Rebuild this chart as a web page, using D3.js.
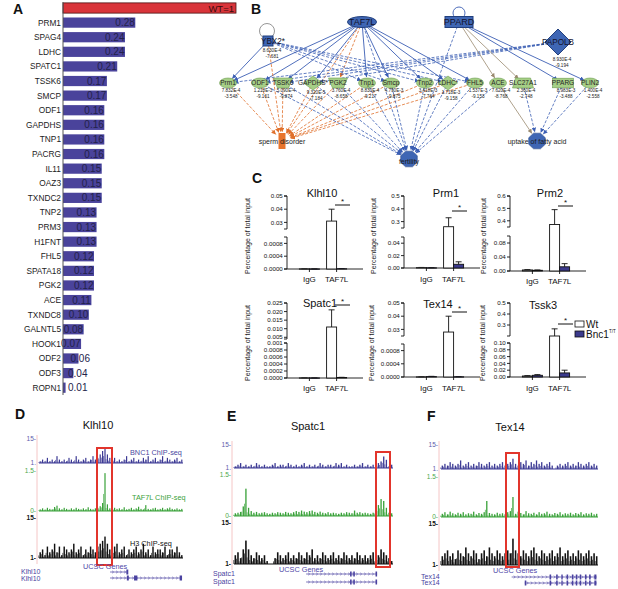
<!DOCTYPE html>
<html><head><meta charset="utf-8">
<script src="https://cdn.jsdelivr.net/npm/d3@7/dist/d3.min.js"></script>
<style>body{margin:0;background:#fff}svg{display:block}</style>
</head><body>
<svg id="fig" width="618" height="589" xmlns="http://www.w3.org/2000/svg"></svg>
<script>
// ================= DATA =================
// Panel A: fold change vs WT (=1)
const aGenes = ["PRM1","SPAG4","LDHC","SPATC1","TSSK6","SMCP","ODF1","GAPDHS","TNP1","PACRG","IL11","OAZ3","TXNDC2","TNP2","PRM3","H1FNT","FHL5","SPATA18","PGK2","ACE","TXNDC8","GALNTL5","HOOK1","ODF2","ODF3","ROPN1"];
const aRatios = [0.28,0.24,0.24,0.21,0.17,0.17,0.16,0.16,0.16,0.16,0.15,0.15,0.15,0.13,0.13,0.13,0.12,0.12,0.12,0.11,0.10,0.08,0.07,0.06,0.04,0.01];
const aWT = 1;

// Panel B: network nodes [name, x, y (layout units), shape, kind, p-value, fold]
const bNodes = [
  ["TAF7L",162,22,"ellipseL","reg","",""],
  ["PPARD",259,22,"rectL","reg","",""],
  ["YBX2*",68,41,"square","reg","8.630E-4","-7.681"],
  ["PAPOLB",358,42,"diamondL","reg","8.930E-4","-9.194"],
  ["Prm1",28,83,"ellipse","tgt","7.832E-4","-3.548"],
  ["ODF1",60,83,"ellipse","tgt","1.218E-3","-9.161"],
  ["TSSK6",83,83,"kinase","tgt","5.090E-4","-9.874"],
  ["GAPDHS*",113,83,"diamond","tgt","9.320E-5","-7.184"],
  ["PGK2",138,83,"kinase","tgt","3.760E-4","-8.658"],
  ["Tnp1",167,83,"ellipse","tgt","8.830E-4","-9.217"],
  ["Smcp",191,83,"ellipse","tgt","4.790E-3","-9.875"],
  ["Tnp2",225,83,"ellipse","tgt","3.418E-3","-7.764"],
  ["LDHC*",248,83,"diamond","tgt","1.718E-3","-9.158"],
  ["FHL5",275,83,"ellipse","tgt","1.537E-3","-9.153"],
  ["ACE",298,83,"ellipse","tgt","7.620E-4","-8.768"],
  ["SLC27A1",323,83,"trap","tgt","2.360E-4","-2.748"],
  ["PPARG",363,83,"rect","tgt","8.983E-3","-3.488"],
  ["PLIN2",390,83,"ellipse","tgt","1.400E-4","-2.558"],
  ["sperm disorder",82,141,"orange","fn","",""],
  ["fertility",209,159,"oct","fn","",""],
  ["uptake of fatty acid",337,141,"oct","fn","",""]
];
const bEdges = [
  ["TAF7L","Prm1","s"],["TAF7L","ODF1","s"],["TAF7L","TSSK6","s"],["TAF7L","GAPDHS*","s"],["TAF7L","Tnp1","s"],
  ["TAF7L","Smcp","s"],["TAF7L","Tnp2","s"],["TAF7L","LDHC*","s"],["TAF7L","FHL5","s"],
  ["TAF7L","fertility","d"],["TAF7L","sperm disorder","o"],["TAF7L","PGK2","o"],
  ["YBX2*","Prm1","s"],["YBX2*","Tnp1","d"],["YBX2*","Smcp","d"],["YBX2*","Tnp2","d"],["YBX2*","LDHC*","d"],
  ["YBX2*","FHL5","d"],["YBX2*","sperm disorder","o"],
  ["PAPOLB","Prm1","d"],["PAPOLB","ODF1","d"],["PAPOLB","TSSK6","d"],["PAPOLB","GAPDHS*","d"],
  ["PPARD","PPARG","s"],["PPARD","PLIN2","s"],["PPARD","SLC27A1","g"],["PPARD","ACE","g"],["PPARD","fertility","d"],
  ["Prm1","sperm disorder","o"],["ODF1","sperm disorder","o"],["TSSK6","sperm disorder","o"],["GAPDHS*","sperm disorder","o"],
  ["PGK2","sperm disorder","o"],["Tnp1","sperm disorder","o"],["Smcp","sperm disorder","o"],["Tnp2","sperm disorder","o"],
  ["LDHC*","sperm disorder","o"],["FHL5","sperm disorder","o"],
  ["ODF1","fertility","d"],["TSSK6","fertility","d"],["GAPDHS*","fertility","d"],["PGK2","fertility","d"],["Tnp1","fertility","d"],
  ["Smcp","fertility","d"],["Tnp2","fertility","d"],["LDHC*","fertility","d"],["FHL5","fertility","d"],["ACE","fertility","d"],
  ["ACE","uptake of fatty acid","g"],["SLC27A1","uptake of fatty acid","d"],["PPARG","uptake of fatty acid","d"],["PLIN2","uptake of fatty acid","d"]
];

// Panel C: ChIP-qPCR, % of total input  [IgG, TAF7L]
const cTitles = ["Klhl10","Prm1","Prm2","Spatc1","Tex14","Tssk3"];
const cGroups = ["IgG","TAF7L"];
const cWtMean  = [[0.000004,0.031],[0.0006,0.26],[0.003,0.37],[0.000003,0.011],[0.000004,0.028],[0.003,0.20]];
const cWtErr   = [[0.000006,0.040],[0.0009,0.33],[0.004,0.49],[0.000004,0.021],[0.000006,0.040],[0.004,0.265]];
const cBncMean = [[0.000002,0.000008],[0.0003,0.006],[0.002,0.012],[0.000002,0.000015],[0.000012,0.000006],[0.005,0.012]];
const cBncErr  = [[0.000004,0.000012],[0.0005,0.010],[0.003,0.021],[0.000003,0.00002],[0.00002,0.00001],[0.007,0.020]];
const cUpTicks = [[0.03,0.04,0.05],[0.3,0.4,0.5],[0.4,0.5,0.6],[0.005,0.01,0.015,0.02,0.025],[0.03,0.04,0.05],[0.3,0.4,0.5]];
const cLoTicks = [[0,0.0004,0.0008],[0,0.02,0.04],[0,0.04,0.08],[0,0.0002,0.0004,0.0006,0.0008,0.001],[0,0.0004,0.0008],[0,0.02,0.04,0.06,0.08,0.1]];
const cLegend = ["Wt","Bnc1"];

// Panels D-F: genome browser signal (60 bins per track)
const gTitles = ["Klhl10","Spatc1","Tex14"];
const gTrackNames = ["BNC1 ChIP-seq","TAF7L ChIP-seq","H3 ChIP-seq"];
const bnc1Signal = [
  [2,3,2,4,2,3,2,5,3,2,3,2,4,3,2,5,3,2,3,4,2,3,5,3,4,6,8,10,6,4,2,4,2,3,2,3,5,2,3,4,2,3,2,4,3,5,2,3,4,2,3,5,2,4,3,2,3,4,2,3],
  [2,3,4,2,3,2,3,2,4,3,2,3,2,2,3,4,2,3,3,2,4,3,2,3,2,3,4,2,3,2,3,2,4,3,2,3,3,2,4,3,4,2,3,2,2,3,2,3,4,2,3,2,3,2,4,5,8,6,2,3],
  [3,4,3,5,4,3,4,6,3,4,5,3,4,3,5,4,3,4,5,3,4,3,4,5,3,4,5,7,4,3,5,4,6,3,5,4,6,4,5,3,4,5,3,1,3,4,3,4,5,3,4,3,5,4,3,4,5,3,4,3]
];
const taf7lSignal = [
  [0.06,0.1,0.05,0.12,0.08,0.06,0.15,0.2,0.1,0.06,0.12,0.08,0.05,0.1,0.06,0.12,0.08,0.06,0.1,0.06,0.14,0.08,0.06,0.1,0.12,0.18,0.3,1.42,0.25,0.1,0.06,0.12,0.08,0.1,0.06,0.14,0.06,0.08,0.12,0.06,0.1,0.16,0.08,0.06,0.22,0.08,0.06,0.1,0.12,0.06,0.08,0.12,0.06,0.1,0.13,0.08,0.06,0.1,0.06,0.08],
  [0.1,0.12,0.15,0.35,1.0,0.3,0.18,0.12,0.15,0.1,0.12,0.14,0.1,0.08,0.12,0.1,0.14,0.12,0.1,0.15,0.12,0.1,0.14,0.18,0.15,0.2,0.16,0.14,0.18,0.2,0.15,0.12,0.16,0.12,0.1,0.14,0.1,0.12,0.1,0.08,0.12,0.1,0.14,0.12,0.1,0.2,0.12,0.14,0.1,0.12,0.1,0.08,0.12,0.2,0.4,0.62,0.55,0.3,0.12,0.1],
  [0.12,0.18,0.1,0.2,0.14,0.1,0.16,0.12,0.18,0.1,0.14,0.12,0.2,0.1,0.15,0.12,0.18,0.6,0.15,0.12,0.1,0.16,0.12,0.14,0.1,0.18,0.22,0.75,0.12,0.2,0.15,0.1,0.22,0.14,0.12,0.16,0.1,0.18,0.12,0.14,0.2,0.12,0.1,0.15,0.12,0.18,0.1,0.14,0.12,0.16,0.1,0.15,0.12,0.18,0.1,0.14,0.12,0.16,0.1,0.12]
];
const h3Signal = [
  [3,4,2,5,3,4,6,3,5,2,5,4,3,4,6,3,4,5,2,4,3,5,4,3,5,6,7,8.5,6,4,3,5,6,3,4,5,2,4,3,4,5,3,4,6,3,4,2,5,3,4,4,3,5,2,4,4,3,5,3,2],
  [4,5,3,6,9,6,4,3,5,4,3,4,2,1,1,3,5,4,3,4,5,3,4,3,5,4,3,5,4,6,3,4,3,5,4,3,4,5,3,4,3,5,4,3,4,3,5,4,3,4,3,4,5,3,4,6,5,4,3,2],
  [4,5,6,4,5,3,6,5,4,7,5,4,6,5,3,5,6,4,7,5,4,6,5,4,5,6,5,10,6,5,4,6,5,4,6,7,5,4,6,5,4,5,6,4,5,7,4,5,6,4,5,4,6,5,4,5,6,4,5,4]
];
// gene models, in bin units [start, end, exons]
const geneModels = [
  [[29.6,37,[[36.4,37.2]]],[29.6,59.6,[[36.6,37.4],[39.6,41],[58.6,59.6]]]],
  [[27.2,54,[[43.8,44.4],[45,45.6],[53.4,54]]],[27.2,54,[[43.8,44.4],[45,45.6],[53.4,54]]]],
  [[27,59.5,[[41.5,42.1],[44,44.6],[46,46.5],[48,48.6],[50,50.6],[51.5,52.1],[53,53.6],[55,55.6],[56.6,57.2],[58.6,59.4]]],
   [32,59.5,[[32,32.6],[41.5,42.1],[44,44.6],[46,46.5],[48,48.6],[50,50.6],[51.5,52.1],[53,53.6],[55,55.6],[56.6,57.2],[58.6,59.4]]]]
];

// ================= DRAW =================
const FONT = "'Liberation Sans', Arial, Helvetica, sans-serif";
const svg = d3.select("#fig").attr("font-family", FONT);
function txt(g, x, y, s, size, opt = {}) {
  return g.append("text").attr("x", x).attr("y", y).text(s)
    .attr("font-size", size).attr("font-family", FONT)
    .attr("font-weight", opt.w || "normal")
    .attr("text-anchor", opt.a || "start")
    .attr("fill", opt.f || "#111");
}
function ln(g, x1, y1, x2, y2, c, w) {
  return g.append("line").attr("x1", x1).attr("y1", y1).attr("x2", x2).attr("y2", y2).attr("stroke", c || "#111").attr("stroke-width", w || 0.9);
}

// ---- Panel letters
[["A",13,14],["B",251,14],["C",252,183],["D",15,419],["E",227,421],["F",427,421]].forEach(d =>
  txt(svg, d[1], d[2], d[0], 14, {w: "bold"}));

// ---- Panel A
(function () {
  const g = svg.append("g");
  const rows = ["WT"].concat(aGenes);
  const y = d3.scaleBand().domain(rows).range([0.7, 395]).paddingInner(0.3).paddingOuter(0.15);
  const x = d3.scaleLinear().domain([0, 0.67]).range([63, 236]).clamp(true);
  g.append("rect").attr("x", x(0)).attr("y", y("WT")).attr("width", x(aWT) - x(0)).attr("height", y.bandwidth())
    .attr("fill", "#d9343a").attr("stroke", "#4a1414").attr("stroke-width", 0.8);
  txt(g, x(aWT) - 2, y("WT") + y.bandwidth() / 2 + 3.5, "WT=1", 9.5, {a: "end", f: "#3a0c0c"});
  aGenes.forEach((name, i) => {
    const v = aRatios[i], yy = y(name), xe = x(v);
    g.append("rect").attr("x", x(0)).attr("y", yy).attr("width", xe - x(0)).attr("height", y.bandwidth())
      .attr("fill", "#4a439b");
    txt(g, 61, yy + y.bandwidth() / 2 + 3, name, 8.3, {a: "end", f: "#222"});
    const lab = v.toFixed(2);
    if (xe >= 80) txt(g, xe - 0.5, yy + y.bandwidth() / 2 + 3.6, lab, 10, {a: "end", f: "#23224a"});
    else txt(g, Math.max(xe - 8, 68), yy + y.bandwidth() / 2 + 3.6, lab, 10, {f: "#23224a"});
  });
  ln(g, x(0), 2, x(0), 395, "#555", 1);
})();

// ---- Panel B
(function () {
  const g = svg.append("g");
  const bx = d3.scaleLinear().domain([0, 418]).range([200, 618]);
  const by = d3.scaleLinear().domain([0, 170]).range([0, 170]);
  const defs = svg.append("defs");
  const cols = {s: "#3c5fb4", d: "#3c5fb4", o: "#e0702c", g: "#9a8a70"};
  Object.entries(cols).forEach(([k, c]) => {
    defs.append("marker").attr("id", "ar" + k).attr("viewBox", "0 -3 6 6").attr("refX", 6).attr("refY", 0)
      .attr("markerWidth", 4.5).attr("markerHeight", 4.5).attr("markerUnits", "userSpaceOnUse").attr("orient", "auto")
      .append("path").attr("d", "M0,-3L6,0L0,3Z").attr("fill", c);
  });
  const N = {};
  bNodes.forEach(n => N[n[0]] = {name: n[0], x: bx(n[1]), y: by(n[2]), shape: n[3], kind: n[4], p: n[5], fc: n[6]});
  const rad = n => n.kind === "fn" ? 9 : (n.kind === "reg" ? 7 : 6);
  g.append("circle").attr("cx", N["YBX2*"].x - 1).attr("cy", N["YBX2*"].y - 10).attr("r", 7.5)
    .attr("fill", "none").attr("stroke", "#8a8a8a").attr("stroke-width", 0.9);
  g.append("circle").attr("cx", N["PPARD"].x).attr("cy", N["PPARD"].y - 9).attr("r", 6)
    .attr("fill", "none").attr("stroke", "#3c5fb4").attr("stroke-width", 0.9);
  bEdges.forEach(e => {
    const s = N[e[0]], t = N[e[1]];
    const dx = t.x - s.x, dy = t.y - s.y, L = Math.hypot(dx, dy);
    const rs = rad(s) * 0.7, rt = rad(t);
    ln(g, s.x + dx / L * rs, s.y + dy / L * rs, t.x - dx / L * rt, t.y - dy / L * rt, cols[e[2]], e[2] === "s" ? 0.9 : 0.8)
      .attr("stroke-dasharray", e[2] === "d" || e[2] === "o" ? "3,1.6" : null)
      .attr("marker-end", "url(#ar" + e[2] + ")");
  });
  const green = "#a6cf86", gStroke = "#6f9e55", blue = "#3f66b4", bStroke = "#22407e";
  Object.values(N).forEach(n => {
    const G = g.append("g").attr("transform", `translate(${n.x},${n.y})`);
    let p;
    switch (n.shape) {
      case "ellipseL": G.append("ellipse").attr("rx", 14.5).attr("ry", 5.5).attr("fill", blue).attr("stroke", bStroke); break;
      case "rectL": G.append("rect").attr("x", -14).attr("y", -5.5).attr("width", 28).attr("height", 11).attr("fill", blue).attr("stroke", bStroke); break;
      case "square": G.append("rect").attr("x", -5).attr("y", -5).attr("width", 10).attr("height", 10).attr("fill", blue).attr("stroke", bStroke); break;
      case "diamondL": G.append("path").attr("d", "M0,-13L13,0L0,13L-13,0Z").attr("fill", blue).attr("stroke", bStroke); break;
      case "ellipse": G.append("ellipse").attr("rx", 8.5).attr("ry", 5).attr("fill", green).attr("stroke", gStroke).attr("stroke-width", 0.6); break;
      case "diamond": G.append("path").attr("d", "M0,-7L9.5,0L0,7L-9.5,0Z").attr("fill", green).attr("stroke", gStroke).attr("stroke-width", 0.6); break;
      case "kinase": G.append("path").attr("d", "M-9.5,-5L9.5,-5L5.5,5L-5.5,5Z").attr("fill", green).attr("stroke", gStroke).attr("stroke-width", 0.6); break;
      case "trap": G.append("path").attr("d", "M-7.5,-5L7.5,-5L10.5,5L-10.5,5Z").attr("fill", green).attr("stroke", gStroke).attr("stroke-width", 0.6); break;
      case "rect": G.append("rect").attr("x", -10.5).attr("y", -4.8).attr("width", 21).attr("height", 9.6).attr("fill", green).attr("stroke", gStroke).attr("stroke-width", 0.6); break;
      case "orange": G.append("rect").attr("x", -3.5).attr("y", -8).attr("width", 7).attr("height", 16).attr("fill", "#e8742c"); break;
      case "oct":
        p = d3.range(8).map(k => [9 * Math.cos(Math.PI / 8 + k * Math.PI / 4), 8.5 * Math.sin(Math.PI / 8 + k * Math.PI / 4)]);
        G.append("path").attr("d", "M" + p.join("L") + "Z").attr("fill", blue).attr("stroke", bStroke).attr("stroke-width", 0.5); break;
    }
    if (n.kind === "reg") {
      txt(G, n.name === "YBX2*" ? 5 : 0, 3.2, n.name, n.name === "TAF7L" || n.name === "PPARD" ? 9 : 8.2, {a: "middle", f: "#14142e"});
    } else if (n.kind === "tgt") {
      txt(G, 0, 2.3, n.name, 6.5, {a: "middle", f: "#262626"});
    } else {
      txt(G, 0, n.name === "fertility" ? 5 : 3, n.name, 7, {a: "middle", f: "#1a1a1a"});
    }
    if (n.p) {
      const dy0 = n.kind === "reg" ? (n.shape === "diamondL" ? 19 : 11) : (n.shape === "diamond" ? 11 : 9);
      const dxv = n.kind === "reg" ? 4 : 3;
      txt(G, dxv, dy0, n.p, 4.6, {a: "middle", f: "#222"});
      txt(G, dxv, dy0 + 5.5, n.fc, 4.6, {a: "middle", f: "#222"});
    }
  });
})();

// ---- Panel C
const cLayout = [
  {ax: 287, up: [0.025, 0.05], upR: [229, 196], lo: [0, 0.001], loR: [269, 237], fU: ".2f", fL: ".4f", tY: 197, tX: 35, sigY: 205, lab: 37, labY: 236, xlY: 282},
  {ax: 404, up: [0.25, 0.5], upR: [228, 196], lo: [0, 0.05], loR: [268, 237], fU: ".1f", fL: ".2f", tY: 197, tX: 42, sigY: 211, lab: 28, labY: 236, xlY: 282},
  {ax: 510, up: [0.35, 0.6], upR: [227, 196], lo: [0, 0.1], loR: [271, 236], fU: ".1f", fL: ".2f", tY: 197, tX: 40, sigY: 206, lab: 24, labY: 236, xlY: 284},
  {ax: 287, up: [0.004, 0.025], upR: [339, 303], lo: [0, 0.001], loR: [378, 343], fU: ".3f", fL: ".4f", tY: 307, tX: 33, sigY: 305, lab: 37, labY: 343, xlY: 391},
  {ax: 404, up: [0.025, 0.05], upR: [336, 303], lo: [0, 0.001], loR: [377, 344], fU: ".2f", fL: ".4f", tY: 308, tX: 34, sigY: 312, lab: 30, labY: 343, xlY: 391},
  {ax: 510, up: [0.2, 0.5], upR: [336, 303], lo: [0, 0.1], loR: [377, 343], fU: ".1f", fL: ".2f", tY: 309, tX: 33, sigY: 324, lab: 25, labY: 343, xlY: 391}
];
function vAxis(g, ax, scale, ticks, fmt) {
  const r = scale.range();
  ln(g, ax, r[0], ax, r[1]);
  ln(g, ax - 3, r[0], ax, r[0]);
  ln(g, ax - 3, r[1], ax, r[1]);
  ticks.forEach(t => {
    const yy = scale(t);
    ln(g, ax - 3, yy, ax, yy);
    txt(g, ax - 4.2, yy + 2.2, fmt(t), 6.2, {a: "end"});
  });
}
cLayout.forEach((L, i) => {
  const g = svg.append("g");
  const ax = L.ax;
  const yU = d3.scaleLinear().domain(L.up).range(L.upR);
  const yL = d3.scaleLinear().domain(L.lo).range(L.loR);
  const yv = v => v <= L.lo[1] ? yL(v) : (v >= L.up[0] ? yU(v) : L.upR[0]);
  const xg = d3.scaleBand().domain(cGroups).range([ax + 2, ax + 70]).padding(0.5);
  const fmtL = d => (d === 0.001 && i === 3) ? "0.001" : d3.format(L.fL)(d);
  vAxis(g, ax, yU, cUpTicks[i], d3.format(L.fU));
  vAxis(g, ax, yL, cLoTicks[i], fmtL);
  const base = L.loR[0];
  ln(g, ax, base, ax + 76, base);
  cGroups.forEach((grp, j) => {
    const c = xg(grp) + xg.bandwidth() / 2;
    ln(g, c, base, c, base + 3);
    txt(g, c, L.xlY, grp, 8, {a: "middle"});
    [[cWtMean[i][j], cWtErr[i][j], "#fff", c - 10], [cBncMean[i][j], cBncErr[i][j], "#3b3a8c", c]].forEach(b => {
      const top = yv(b[0]), et = yv(b[1]);
      ln(g, b[3] + 5, top, b[3] + 5, et);
      ln(g, b[3] + 2, et, b[3] + 8, et);
      g.append("rect").attr("x", b[3]).attr("y", top).attr("width", 10).attr("height", Math.max(base - top, 0.3))
        .attr("fill", b[2]).attr("stroke", "#111").attr("stroke-width", 0.9);
    });
  });
  txt(g, ax + L.tX, L.tY, cTitles[i], 11, {a: "middle"});
  ln(g, ax + 48, L.sigY, ax + 63, L.sigY, "#111", 1);
  txt(g, ax + 55.5, L.sigY - 1, "*", 8, {a: "middle"});
  txt(g, 0, 0, "Percentage of total input", 7, {a: "middle", f: "#222"})
    .attr("transform", `translate(${ax - L.lab},${L.labY}) rotate(-90)`);
});
(function () {
  const g = svg.append("g");
  [[cLegend[0], "#fff", 321], [cLegend[1], "#3b3a8c", 331]].forEach(d => {
    g.append("rect").attr("x", 575).attr("y", d[2]).attr("width", 9).attr("height", 6).attr("fill", d[1]).attr("stroke", "#111").attr("stroke-width", 0.8);
    txt(g, 586, d[2] + 6.5, d[0], 10);
  });
  txt(g, 609, 333, "T/T", 4.5);
})();

// ---- Panels D-F
const gLayout = [
  {x0: 39, x1: 183, b: [463, 439], gr: [511, 471], h: [558, 518], box: [97, 112, 448, 565], tX: 98, tY: 429, uX: 83, uY: 569, gX: 21, gY: [574, 581], lY: [572, 578], lab: true},
  {x0: 234, x1: 393, b: [468, 445], gr: [516, 475], h: [564, 523], box: [376, 390, 452, 567], tX: 308, tY: 430, uX: 279, uY: 572, gX: 213, gY: [576, 584], lY: [574, 582], lab: false},
  {x0: 441, x1: 598, b: [469, 445], gr: [517, 477], h: [565, 524], box: [506, 519, 453, 567], tX: 510, tY: 431, uX: 493, uY: 573, gX: 421, gY: [579, 585], lY: [577, 583], lab: false}
];
gLayout.forEach((L, i) => {
  const g = svg.append("g");
  const x = d3.scaleLinear().domain([0, 60]).range([L.x0, L.x1]);
  const w = (L.x1 - L.x0) / 60;
  txt(g, L.tX, L.tY, gTitles[i], 11, {a: "middle"});
  ln(g, L.x0 - 2, L.b[1] - 4, L.x0 - 2, L.h[0] + 6, "#f2b8b8", 0.8);
  const tracks = [
    {data: bnc1Signal[i], dom: [1, 15], r: L.b, c: "#3d3b95", tc: "#5d5cab", t: ["1.", "15-"], bw: 0.5},
    {data: taf7lSignal[i], dom: [0, 1.5], r: L.gr, c: "#3aa23a", tc: "#4aa84a", t: ["0-", "1.5-"], bw: 0.5},
    {data: h3Signal[i], dom: [1, 15], r: L.h, c: "#111", tc: "#111", t: ["1-", "15-"], bw: 0.6}
  ];
  tracks.forEach((T, k) => {
    const y = d3.scaleLinear().domain(T.dom).range(T.r);
    const y0 = y(T.dom[0]);
    ln(g, L.x0, y0, L.x1, y0, T.c, 1.2);
    g.selectAll(null).data(T.data).enter().append("rect")
      .attr("x", (d, j) => x(j) + w * (1 - T.bw) / 2).attr("width", w * T.bw)
      .attr("y", d => y(d)).attr("height", d => Math.max(y0 - y(d), 0)).attr("fill", T.c);
    g.selectAll(null).data(T.data).enter().append("rect")
      .attr("x", (d, j) => x(j) - w * 0.22).attr("width", w * 0.3)
      .attr("y", d => y0 - (y0 - y(d)) * 0.45).attr("height", d => Math.max(y0 - y(d), 0) * 0.45).attr("fill", T.c).attr("opacity", 0.85);
    txt(g, L.x0 - 3, y0 + 2.3, T.t[0], 6.5, {a: "end", f: T.tc, w: k === 2 ? "bold" : "normal"});
    txt(g, L.x0 - 3, y(T.dom[1]) + 2.3, T.t[1], 6.5, {a: "end", f: T.tc, w: k === 2 ? "bold" : "normal"});
  });
  if (L.lab) {
    txt(g, 130, 455, gTrackNames[0], 7.3, {f: "#4a48a0"});
    txt(g, 132, 500, gTrackNames[1], 7.3, {f: "#3aa23a"});
    txt(g, 130, 546, gTrackNames[2], 7.3, {f: "#111"});
  }
  g.append("rect").attr("x", L.box[0]).attr("y", L.box[2]).attr("width", L.box[1] - L.box[0]).attr("height", L.box[3] - L.box[2])
    .attr("fill", "none").attr("stroke", "#e2352c").attr("stroke-width", 2);
  txt(g, L.uX, L.uY, "UCSC Genes", 7.3, {f: "#5048a8"});
  geneModels[i].forEach((gm, k) => {
    const yy = L.lY[k];
    txt(g, L.gX, L.gY[k], gTitles[i], 7, {f: "#4a42a0"});
    ln(g, x(gm[0]), yy, x(gm[1]), yy, "#4a42a0", 0.7);
    for (let c = x(gm[0]) + 3; c < x(gm[1]) - 2; c += 4) {
      g.append("path").attr("d", `M${c - 1},${yy - 1.3}L${c + 0.6},${yy}L${c - 1},${yy + 1.3}`).attr("fill", "none").attr("stroke", "#4a42a0").attr("stroke-width", 0.5);
    }
    gm[2].forEach(ex => g.append("rect").attr("x", x(ex[0])).attr("y", yy - 2.5).attr("width", Math.max(x(ex[1]) - x(ex[0]), 1)).attr("height", 5).attr("fill", "#4a42a0"));
  });
});
</script>
</body></html>
